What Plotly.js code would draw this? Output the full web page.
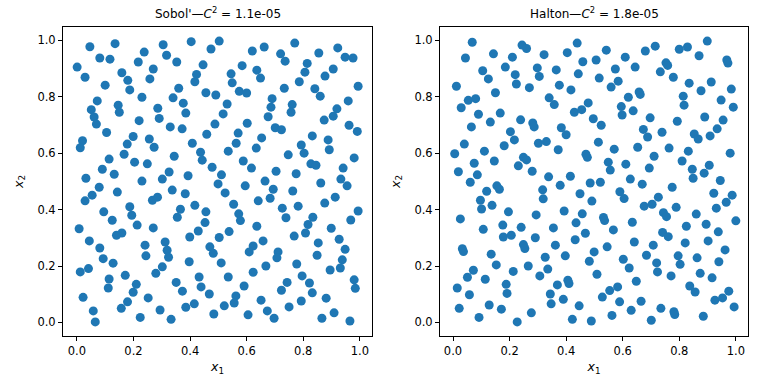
<!DOCTYPE html>
<html><head><meta charset="utf-8">
<script src="https://cdn.plot.ly/plotly-3.0.1.min.js"></script>
<style>html,body{margin:0;padding:0;background:#fff}</style>
</head><body>
<div id="chart" style="width:768px;height:384px"></div>
<script>
const sobolTitle = "Sobol'\u2014<i>C</i><sup>2</sup> = 1.1e-05";
const haltonTitle = "Halton\u2014<i>C</i><sup>2</sup> = 1.8e-05";
const tickValues = [0, 0.2, 0.4, 0.6, 0.8, 1.0];
const tickLabels = ["0.0", "0.2", "0.4", "0.6", "0.8", "1.0"];

const sobolX = [
0.046,0.135,0.081,0.117,0.001,0.029,0.159,0.180,0.100,0.187,0.238,0.217,0.270,0.258,0.305,0.317,0.353,0.404,0.474,0.503,0.446,0.423,0.417,0.360,0.456,0.491,0.072,0.051,0.061,0.069,0.146,0.150,0.230,0.286,0.220,0.291,0.340,0.376,0.385,0.330,0.372,0.488,
0.620,0.662,0.770,0.720,0.736,0.855,0.922,0.948,0.976,0.814,0.806,0.786,0.906,0.877,0.994,0.584,0.545,0.549,0.636,0.649,0.733,0.574,0.600,0.841,0.860,0.690,0.686,0.761,0.757,0.531,0.517,0.676,0.959,0.919,0.906,0.874,0.602,0.701,0.723,0.962,0.991,
0.105,0.199,0.256,0.273,0.178,0.020,0.012,0.459,0.408,0.437,0.443,0.478,0.499,0.344,0.249,0.204,0.167,0.114,0.090,0.132,0.032,0.079,0.054,0.029,0.143,0.230,0.302,0.326,0.393,0.337,0.383,0.267,0.285,0.417,0.456,0.453,0.429,0.366,0.355,0.187,0.194,0.095,0.125,0.213,0.270,0.008,0.159,
0.570,0.653,0.832,0.888,0.892,0.563,0.535,0.634,0.793,0.803,0.747,0.980,0.588,0.617,0.827,0.845,0.941,0.704,0.775,0.511,0.595,0.665,0.694,0.683,0.763,0.862,0.933,0.955,0.524,0.554,0.641,0.726,0.782,0.876,0.913,0.994,0.968,0.572,0.578,0.739,0.834,0.817,0.899,0.636,0.538,0.808,
0.140,0.399,0.503,0.044,0.081,0.093,0.128,0.241,0.244,0.312,0.319,0.324,0.397,0.470,0.482,0.012,0.041,0.114,0.111,0.171,0.210,0.199,0.279,0.302,0.351,0.373,0.432,0.439,0.468,0.022,0.058,0.065,0.157,0.179,0.252,0.224,0.294,0.333,0.385,0.415,0.484,
0.768,0.927,0.658,0.623,0.609,0.711,0.707,0.853,0.849,0.948,0.938,0.931,0.895,0.510,0.535,0.623,0.668,0.777,0.796,0.822,0.832,0.743,0.723,0.591,0.562,0.556,0.521,0.651,0.673,0.697,0.605,0.750,0.793,0.881,0.980,0.984,0.909,0.866,0.965
];
const sobolY = [
0.977,0.988,0.937,0.933,0.905,0.869,0.885,0.858,0.841,0.824,0.958,0.923,0.898,0.863,0.984,0.947,0.923,0.995,0.969,0.997,0.913,0.879,0.853,0.830,0.814,0.806,0.785,0.754,0.728,0.703,0.770,0.745,0.798,0.759,0.715,0.723,0.796,0.777,0.742,0.693,0.686,0.703,
0.962,0.976,0.990,0.952,0.926,0.955,0.973,0.940,0.937,0.918,0.887,0.853,0.898,0.873,0.837,0.910,0.881,0.849,0.894,0.866,0.830,0.819,0.813,0.828,0.802,0.793,0.763,0.772,0.745,0.774,0.739,0.729,0.785,0.757,0.731,0.717,0.706,0.690,0.683,0.699,0.677,
0.673,0.659,0.650,0.621,0.632,0.644,0.619,0.667,0.635,0.603,0.575,0.550,0.491,0.589,0.562,0.568,0.596,0.579,0.543,0.525,0.511,0.479,0.451,0.431,0.462,0.501,0.508,0.533,0.520,0.469,0.456,0.433,0.444,0.415,0.392,0.354,0.324,0.401,0.373,0.410,0.380,0.392,0.362,0.345,0.335,0.332,0.317,
0.671,0.654,0.661,0.647,0.612,0.635,0.607,0.618,0.629,0.600,0.594,0.583,0.572,0.547,0.562,0.557,0.547,0.536,0.527,0.523,0.484,0.501,0.472,0.440,0.466,0.494,0.508,0.484,0.459,0.419,0.431,0.405,0.412,0.423,0.444,0.395,0.363,0.385,0.361,0.371,0.373,0.347,0.334,0.341,0.322,0.317,
0.309,0.303,0.301,0.289,0.264,0.226,0.210,0.274,0.236,0.285,0.256,0.231,0.215,0.268,0.245,0.179,0.191,0.154,0.122,0.167,0.135,0.107,0.174,0.197,0.142,0.111,0.161,0.126,0.101,0.089,0.041,0.002,0.050,0.073,0.087,0.018,0.044,0.011,0.054,0.066,0.030,
0.306,0.295,0.289,0.271,0.250,0.250,0.229,0.282,0.238,0.259,0.222,0.193,0.186,0.211,0.161,0.178,0.200,0.207,0.165,0.140,0.105,0.142,0.114,0.129,0.094,0.069,0.059,0.079,0.041,0.015,0.027,0.055,0.076,0.086,0.151,0.121,0.034,0.015,0.005
];

const haltonX = [
0.068,0.044,0.143,0.210,0.244,0.260,0.322,0.404,0.439,0.459,0.105,0.125,0.185,0.220,0.224,0.298,0.305,0.365,0.443,0.376,0.417,0.270,0.150,0.012,0.029,0.054,0.080,0.090,0.167,0.132,0.065,0.203,0.239,0.282,0.287,0.340,0.358,0.429,0.455,0.478,0.496,0.383,
0.506,0.542,0.609,0.680,0.715,0.800,0.829,0.899,0.870,0.968,0.972,0.753,0.759,0.733,0.779,0.644,0.574,0.517,0.584,0.559,0.658,0.662,0.620,0.595,0.598,0.637,0.835,0.913,0.877,0.814,0.817,0.984,0.948,0.991,0.697,0.793,0.890,0.955,0.934,0.524,0.673,0.739,
0.217,0.400,0.040,0.006,0.111,0.181,0.302,0.330,0.372,0.470,0.475,0.075,0.146,0.231,0.249,0.260,0.280,0.019,0.086,0.061,0.119,0.155,0.164,0.097,0.101,0.138,0.196,0.338,0.415,0.379,0.317,0.319,0.449,0.485,0.491,0.393,0.457,0.294,0.026,0.107,0.176,0.241,0.355,0.435,0.468,
0.514,0.570,0.688,0.853,0.867,0.909,0.653,0.711,0.764,0.832,0.810,0.980,0.906,0.888,0.846,0.849,0.945,0.549,0.556,0.611,0.694,0.627,0.669,0.521,0.590,0.605,0.775,0.726,0.704,0.676,0.789,0.922,0.987,0.966,0.931,0.744,0.755,0.860,1.000,0.532,0.536,0.634,0.567,0.825,0.895,0.938,0.741,
0.178,0.206,0.291,0.432,0.033,0.037,0.135,0.153,0.249,0.254,0.362,0.397,0.326,0.266,0.335,0.307,0.213,0.499,0.482,0.072,0.051,0.114,0.015,0.058,0.188,0.191,0.369,0.406,0.410,0.344,0.390,0.347,0.446,0.022,0.128,0.171,0.092,0.227,0.277,0.422,0.489,
0.641,0.708,0.761,0.821,0.902,0.962,0.940,0.545,0.602,0.623,0.684,0.720,0.723,0.796,0.803,0.863,0.874,0.916,0.771,0.509,0.648,0.837,0.856,0.582,0.554,0.528,0.589,0.665,0.735,0.630,0.781,0.784,0.926,0.953,0.975,0.994,0.885,0.562,0.701
];
const haltonY = [
0.993,0.937,0.952,0.940,0.983,0.971,0.949,0.956,0.990,0.924,0.892,0.863,0.905,0.878,0.845,0.902,0.872,0.895,0.881,0.841,0.824,0.832,0.814,0.837,0.761,0.787,0.793,0.738,0.742,0.710,0.693,0.676,0.718,0.707,0.693,0.796,0.772,0.745,0.754,0.778,0.722,0.690,
0.930,0.965,0.940,0.962,0.979,0.968,0.976,0.997,0.945,0.930,0.919,0.920,0.911,0.888,0.869,0.905,0.898,0.866,0.855,0.834,0.817,0.808,0.798,0.765,0.735,0.750,0.848,0.852,0.821,0.802,0.770,0.827,0.788,0.763,0.725,0.713,0.728,0.717,0.686,0.699,0.684,0.674,
0.647,0.665,0.632,0.598,0.607,0.626,0.635,0.641,0.612,0.596,0.585,0.564,0.572,0.555,0.585,0.576,0.536,0.534,0.523,0.497,0.465,0.484,0.472,0.433,0.402,0.415,0.392,0.516,0.518,0.486,0.470,0.438,0.456,0.494,0.430,0.395,0.385,0.381,0.367,0.330,0.345,0.337,0.335,0.353,0.316,
0.639,0.614,0.657,0.668,0.650,0.661,0.621,0.589,0.618,0.607,0.572,0.600,0.557,0.529,0.543,0.511,0.503,0.568,0.540,0.561,0.547,0.508,0.490,0.497,0.463,0.439,0.479,0.444,0.419,0.412,0.408,0.458,0.451,0.426,0.405,0.389,0.375,0.384,0.360,0.372,0.361,0.355,0.328,0.341,0.348,0.321,0.319,
0.303,0.309,0.300,0.293,0.261,0.251,0.242,0.204,0.276,0.262,0.274,0.236,0.231,0.200,0.189,0.165,0.181,0.250,0.217,0.185,0.160,0.153,0.122,0.098,0.135,0.103,0.133,0.150,0.138,0.101,0.082,0.066,0.059,0.050,0.062,0.047,0.018,0.002,0.034,0.011,0.005,
0.285,0.274,0.304,0.282,0.289,0.257,0.215,0.268,0.224,0.193,0.238,0.211,0.179,0.236,0.206,0.229,0.174,0.158,0.165,0.171,0.146,0.129,0.108,0.126,0.113,0.090,0.073,0.075,0.050,0.043,0.038,0.028,0.079,0.087,0.111,0.055,0.022,0.025,0.008
];

const FONT = "DejaVu Sans";
const markerStyle = {color: "#1f77b4", size: 9, line: {width: 0}};

const traces = [
  {type: "scatter", mode: "markers", x: sobolX, y: sobolY, xaxis: "x", yaxis: "y", marker: markerStyle, hoverinfo: "skip"},
  {type: "scatter", mode: "markers", x: haltonX, y: haltonY, xaxis: "x2", yaxis: "y2", marker: markerStyle, hoverinfo: "skip"}
];

function axis(extra) {
  return Object.assign({
    showline: true, mirror: true, linecolor: "#000", linewidth: 1,
    ticks: "outside", ticklen: 4, tickwidth: 1, tickcolor: "#000",
    showgrid: false, zeroline: false, fixedrange: true,
    tickmode: "array", tickvals: tickValues, ticktext: tickLabels,
    tickfont: {family: FONT, size: 11.5, color: "#000"}
  }, extra);
}

const layout = {
  width: 768, height: 384,
  margin: {l: 0, r: 0, t: 0, b: 0},
  paper_bgcolor: "#fff", plot_bgcolor: "#fff",
  showlegend: false,
  font: {family: FONT, size: 11.5, color: "#000"},
  xaxis: axis({domain: [63/768, 372/768], range: [-0.049, 1.043], anchor: "y",
    title: {text: "<i>x</i><sub>1</sub>", font: {family: FONT, size: 12.5}, standoff: 5}}),
  yaxis: axis({domain: [48/384, 357/384], range: [-0.048, 1.047], anchor: "x",
    title: {text: "<i>x</i><sub>2</sub>", font: {family: FONT, size: 12.5}, standoff: 11}}),
  xaxis2: axis({domain: [440/768, 748/768], range: [-0.046, 1.043], anchor: "y2",
    title: {text: "<i>x</i><sub>1</sub>", font: {family: FONT, size: 12.5}, standoff: 5}}),
  yaxis2: axis({domain: [48/384, 357/384], range: [-0.048, 1.047], anchor: "x2",
    title: {text: "<i>x</i><sub>2</sub>", font: {family: FONT, size: 12.5}, standoff: 11}}),
  annotations: [
    {text: sobolTitle, xref: "paper", yref: "paper", x: (63+372)/2/768, y: 1 - 13/384,
     xanchor: "center", yanchor: "middle", showarrow: false, font: {family: FONT, size: 12, color: "#000"}},
    {text: haltonTitle, xref: "paper", yref: "paper", x: (440+748)/2/768, y: 1 - 13/384,
     xanchor: "center", yanchor: "middle", showarrow: false, font: {family: FONT, size: 12, color: "#000"}}
  ]
};

Plotly.newPlot("chart", traces, layout, {displayModeBar: false});
</script>
</body></html>
